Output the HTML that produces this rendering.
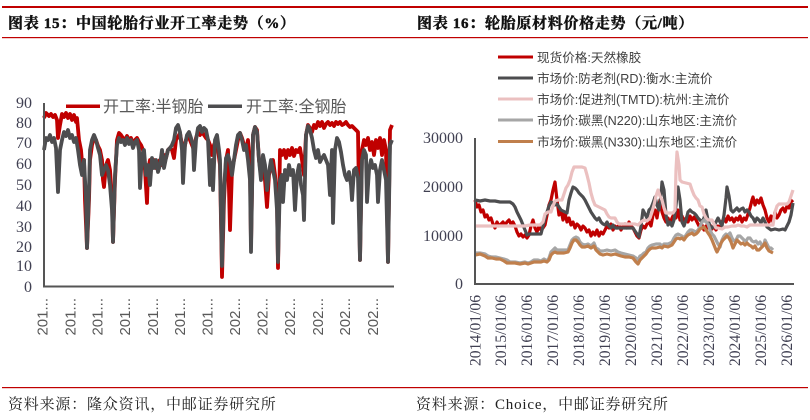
<!DOCTYPE html>
<html><head><meta charset="utf-8"><style>
html,body{margin:0;padding:0;background:#fff;}
svg{display:block;}
.title{font-family:"Liberation Serif","Noto Serif CJK SC",serif;font-weight:bold;font-size:15px;fill:#111;stroke:#111;stroke-width:0.45px;letter-spacing:0.7px;}
.foot{font-family:"Liberation Serif","Noto Serif CJK SC",serif;font-size:15px;fill:#222;letter-spacing:0.8px;}
.ytk{font-family:"Liberation Serif",serif;font-size:16px;fill:#404052;}
.xl{font-family:"Liberation Sans",sans-serif;font-size:15px;fill:#595959;}
.xr{font-family:"Liberation Serif",serif;font-size:15.6px;fill:#404052;}
.lg{font-family:"Liberation Sans","Noto Sans CJK SC",sans-serif;font-size:16px;fill:#595959;}
.lgr{font-family:"Liberation Sans","Noto Sans CJK SC",sans-serif;font-size:12.6px;fill:#404040;}
</style></head><body>
<svg width="810" height="420" viewBox="0 0 810 420" xmlns="http://www.w3.org/2000/svg">
<rect width="810" height="420" fill="#fff"/>
<rect x="2" y="6" width="806" height="2" fill="#C00000"/>
<rect x="2" y="37" width="806" height="1.2" fill="#C00000"/>
<rect x="2" y="387" width="806" height="1.2" fill="#C00000"/>
<text class="title" x="8" y="28">图表 15：中国轮胎行业开工率走势（%）</text>
<text class="title" x="417" y="28">图表 16：轮胎原材料价格走势（元/吨）</text>
<text class="foot" x="8" y="409">资料来源：隆众资讯，中邮证券研究所</text>
<text class="foot" x="416" y="409">资料来源：Choice，中邮证券研究所</text>

<g class="ytk" text-anchor="end">
<text x="32" y="108">90</text><text x="32" y="128">80</text><text x="32" y="148">70</text>
<text x="32" y="169">60</text><text x="32" y="190">50</text><text x="32" y="211">40</text>
<text x="32" y="232">30</text><text x="32" y="252">20</text><text x="32" y="271">10</text>
<text x="32" y="292">0</text>
</g>
<polyline fill="none" stroke="#C00000" stroke-width="3.8" stroke-linejoin="round" points="44,118 46,113 49,116 51,114 53,117 55,115 57,120 58,138 60,125 62,114 64,117 66,113 68,118 70,114 72,120 74,115 76,122 77,118 79,140 81,150 82,162 84,160 85,200 87,248 89,200 90,160 92,145 94,138 96,140 98,146 100,150 102,160 103,180 104,187 106,165 108,160 110,170 112,200 113,242 115,180 117,140 119,133 121,135 123,138 125,140 127,136 129,140 131,138 133,145 135,140 137,138 139,142 141,145 143,150 145,170 147,203 148,170 150,160 152,165 154,160 156,168 158,162 160,160 162,165 164,155 166,158 168,150 170,148 172,150 174,158 176,140 178,137 180,133 182,145 184,150 186,140 188,135 190,140 192,145 194,150 196,138 198,132 200,135 202,132 204,135 206,138 208,140 210,145 212,155 214,145 216,140 218,150 220,165 222,277 224,200 226,160 228,150 230,230 232,170 234,160 236,150 238,140 240,133 242,138 244,145 246,150 248,140 250,165 251,245 253,135 255,127 257,130 259,160 261,175 263,165 265,180 267,207 269,175 271,165 273,160 275,175 277,200 278,268 280,150 282,155 284,150 286,158 288,150 290,155 292,148 294,156 296,150 298,152 300,148 302,160 304,175 306,135 308,125 310,128 312,132 314,125 316,128 318,122 320,126 322,122 324,128 326,124 328,122 330,125 332,123 334,126 336,122 338,124 340,122 342,125 344,124 346,122 348,125 350,127 352,126 354,128 356,130 358,132 360,260 362,150 364,140 366,145 368,138 370,150 372,142 374,155 376,140 378,148 380,138 382,155 384,140 386,150 388,262 390,130 392,125"/>
<polyline fill="none" stroke="#4D4D4F" stroke-width="3.8" stroke-linejoin="round" points="44,150 46,138 48,140 50,135 52,142 54,138 56,148 58,192 60,150 62,140 64,132 66,136 68,130 70,138 72,135 74,142 76,138 78,150 80,165 82,175 84,160 86,200 87,248 89,190 90,150 92,140 94,135 96,140 98,148 100,155 102,175 104,170 106,165 108,170 110,185 112,210 113,242 115,175 117,145 119,138 121,142 123,140 125,145 127,138 129,144 131,140 133,148 135,142 137,140 139,150 140,188 142,155 144,150 146,175 148,165 150,185 152,158 154,168 156,160 158,172 160,165 162,150 164,168 166,158 168,150 170,148 172,145 174,140 176,128 178,125 180,132 182,150 183,183 185,145 187,135 189,132 191,138 193,145 194,170 196,140 198,128 200,126 202,132 204,128 206,130 208,140 210,185 212,160 213,190 215,140 217,135 219,150 220,160 222,266 224,190 226,158 228,155 230,162 232,175 234,160 236,145 238,135 240,133 242,140 244,150 246,145 248,160 250,180 251,252 253,135 255,127 257,132 259,160 261,180 263,155 265,165 267,190 269,172 271,160 273,170 275,180 277,210 278,262 280,180 282,175 283,202 285,170 287,180 289,165 291,175 293,170 295,210 297,175 299,165 301,185 303,195 304,220 306,135 308,126 310,130 312,138 314,150 316,158 318,150 320,162 322,158 324,155 326,160 328,165 330,195 332,150 333,223 335,150 337,138 339,142 341,152 343,165 345,175 347,180 349,172 351,185 352,200 354,170 356,168 358,178 360,260 362,160 364,150 366,155 367,202 369,170 371,160 373,168 375,165 377,175 378,202 380,170 382,160 384,170 386,180 388,262 390,145 392,140"/>
<rect x="43" y="103" width="2" height="184" fill="#555"/>
<rect x="43" y="285.5" width="351" height="2" fill="#555"/>
<rect x="66" y="104.5" width="34" height="3.5" fill="#C00000"/>
<text class="lg" x="103" y="112">开工率:半钢胎</text>
<rect x="208" y="104.5" width="34" height="3.5" fill="#4D4D4F"/>
<text class="lg" x="246" y="112">开工率:全钢胎</text>
<g class="xl" text-anchor="end">
<text transform="translate(47.5,298) rotate(-90)">201...</text>
<text transform="translate(75.5,298) rotate(-90)">201...</text>
<text transform="translate(102.5,298) rotate(-90)">201...</text>
<text transform="translate(130,298) rotate(-90)">201...</text>
<text transform="translate(158,298) rotate(-90)">201...</text>
<text transform="translate(185,298) rotate(-90)">201...</text>
<text transform="translate(212.5,298) rotate(-90)">201...</text>
<text transform="translate(240,298) rotate(-90)">202...</text>
<text transform="translate(267.5,298) rotate(-90)">202...</text>
<text transform="translate(295,298) rotate(-90)">202...</text>
<text transform="translate(323,298) rotate(-90)">202...</text>
<text transform="translate(350,298) rotate(-90)">202...</text>
<text transform="translate(378,298) rotate(-90)">202...</text>
</g>

<g class="ytk" text-anchor="end">
<text x="463" y="143">30000</text><text x="463" y="192">20000</text>
<text x="463" y="241">10000</text><text x="463" y="289">0</text>
</g>
<polyline fill="none" stroke="#C00000" stroke-width="3.2" stroke-linejoin="round" points="475,200 477,207 479,205 481,212 483,210 485,217 487,215 489,220 491,218 493,224 495,228 497,222 499,226 501,224 503,222 505,225 507,222 509,220 511,224 513,222 515,226 517,232 519,236 521,234 523,237 525,235 527,238 529,235 531,226 533,220 535,228 537,232 539,226 541,230 543,228 545,225 547,215 549,205 551,200 553,190 555,182 557,200 559,215 561,210 563,220 565,213 567,222 569,218 571,225 573,222 575,228 577,224 579,226 581,230 583,226 585,228 587,232 589,230 591,236 593,232 595,235 597,230 599,236 601,232 603,234 605,230 607,226 609,228 611,224 613,230 615,226 617,228 619,225 621,230 623,226 625,224 627,228 629,222 631,226 633,228 635,232 637,236 639,238 641,230 643,226 645,228 647,224 649,222 651,226 653,215 655,210 657,218 659,205 660,200 662,212 664,218 666,222 668,218 670,224 672,218 674,214 676,218 678,210 680,220 682,216 684,222 686,218 688,222 690,216 692,220 694,217 696,220 698,224 700,228 702,225 704,230 706,226 708,228 710,225 712,229 714,226 716,230 718,226 720,228 722,222 724,218 726,222 728,216 730,220 732,218 734,222 736,218 738,220 740,216 742,222 744,218 746,220 748,214 750,208 752,200 753,197 755,205 757,200 759,203 761,198 763,205 765,210 767,218 769,222 771,216 773,222 775,212 777,218 779,215 781,210 783,208 785,212 787,206 789,208 791,202 793,200"/>
<polyline fill="none" stroke="#4D4D4F" stroke-width="3.2" stroke-linejoin="round" points="475,200 480,201 485,200 490,201 495,201 500,202 505,202 510,202 513,204 515,207 517,212 519,216 521,220 523,225 525,230 527,235 529,234 533,234 537,234 541,234 543,226 545,218 547,212 549,206 551,202 553,203 555,205 557,204 559,207 561,210 563,211 565,212 567,213 569,200 571,193 573,187 575,188 577,190 579,193 581,195 583,197 585,200 587,204 589,208 591,212 593,215 595,218 597,220 599,218 601,222 603,224 605,225 607,222 609,226 611,228 613,225 615,228 617,228 621,228 625,228 629,228 633,228 635,231 637,234 639,237 641,226 643,210 645,214 647,218 649,210 651,208 653,203 655,197 657,205 659,210 661,195 662,182 664,190 666,215 668,225 670,222 672,226 674,220 676,205 678,187 680,200 682,222 684,226 686,220 688,212 690,210 692,212 694,213 696,215 698,218 700,220 702,222 704,218 706,210 708,220 710,226 712,228 714,226 716,222 718,218 720,222 722,226 724,215 726,198 727,187 729,196 731,210 733,212 735,210 737,208 739,211 741,209 743,208 745,212 747,210 749,212 751,216 753,218 755,222 757,218 759,220 761,223 763,218 765,222 767,227 771,230 775,229 779,230 783,229 785,230 787,226 789,222 791,215 793,203"/>
<polyline fill="none" stroke="#EBC0C0" stroke-width="3.2" stroke-linejoin="round" points="475,226 485,226 495,226 505,226 515,226 525,226 530,225 540,225 543,222 545,214 548,212 551,212 553,206 555,201 558,200 562,200 564,194 566,188 568,185 570,180 572,172 574,167 578,167 582,167 585,168 587,175 589,183 591,193 593,200 595,205 597,206 601,208 605,210 607,214 609,217 611,218 615,218 617,222 619,224 623,224 627,224 631,224 635,224 638,225 641,222 644,220 647,221 650,218 652,212 654,205 656,196 658,190 660,196 662,200 664,208 666,213 670,213 673,213 675,210 676,170 677,152 679,165 680,180 682,182 686,183 690,184 692,190 694,195 696,198 698,200 700,206 702,207 704,214 706,218 708,220 712,220 714,224 716,228 718,228 722,229 725,227 728,227 732,226 736,226 738,225 741,226 744,226 747,227 750,225 754,225 758,225 762,225 766,225 770,225 773,225 775,212 777,206 779,204 783,204 787,204 789,202 791,196 793,190"/>
<polyline fill="none" stroke="#A6A6A6" stroke-width="3.2" stroke-linejoin="round" points="475,253 480,253 485,254 488,256 492,257 496,257 500,258 504,259 507,260 510,262 515,262 520,263 525,262 528,263 531,262 534,260 538,260 541,261 544,259 547,261 549,258 551,252 553,250 555,248 557,250 560,250 564,250 568,250 570,245 572,240 574,238 576,237 578,238 580,242 582,244 585,245 588,244 591,246 594,243 596,248 598,249 600,251 603,251 607,250 611,251 615,250 618,252 621,253 625,254 629,255 633,256 636,258 638,260 640,256 642,255 644,253 646,252 648,248 650,246 652,245 656,244 660,244 662,246 664,244 668,244 672,242 674,238 676,235 678,234 680,235 682,236 684,238 686,235 688,232 690,230 692,230 694,231 696,232 698,230 700,227 702,222 704,220 706,222 708,224 710,230 712,234 714,236 716,240 718,244 720,247 722,240 724,236 726,234 728,235 730,233 732,238 734,241 736,240 738,236 740,236 742,238 744,240 746,241 748,238 750,238 752,241 754,242 756,241 758,244 760,242 762,246 764,244 765,240 767,244 769,248 771,248 773,250"/>
<polyline fill="none" stroke="#C07F4C" stroke-width="3.2" stroke-linejoin="round" points="475,255 480,254 485,256 488,258 492,258 496,259 500,259 504,261 507,263 510,263 515,263 520,264 525,263 528,264 531,263 534,262 538,262 541,262 544,261 547,262 549,260 551,255 553,253 555,252 557,253 560,253 564,253 568,252 570,248 572,243 574,240 576,240 578,242 580,245 582,247 585,247 588,246 591,248 594,246 596,250 598,252 600,254 603,255 607,254 611,255 615,254 618,255 621,256 625,257 629,257 633,258 636,262 638,264 640,260 642,258 644,256 646,254 648,251 650,249 652,248 656,248 660,247 662,248 664,246 668,247 672,245 674,242 676,239 678,238 680,239 682,238 684,240 686,237 688,235 690,234 692,233 694,235 696,234 698,232 700,229 702,228 704,227 706,230 708,233 710,236 712,240 714,245 716,250 717,252 719,248 721,243 723,240 725,238 727,236 729,238 731,242 733,248 735,244 737,240 739,242 741,244 743,243 745,245 747,243 749,245 751,246 753,248 755,246 757,250 759,250 761,248 763,246 765,243 767,248 769,251 771,252 773,253"/>
<rect x="474" y="138" width="2" height="147" fill="#555"/>
<rect x="474" y="283" width="320" height="2" fill="#555"/>
<rect x="498" y="55.5" width="35" height="3" fill="#C00000"/>
<text class="lgr" x="537" y="62">现货价格:天然橡胶</text>
<rect x="498" y="76.5" width="35" height="3" fill="#4D4D4F"/>
<text class="lgr" x="537" y="83">市场价:防老剂(RD):衡水:主流价</text>
<rect x="498" y="97.5" width="35" height="3" fill="#EBC0C0"/>
<text class="lgr" x="537" y="104">市场价:促进剂(TMTD):杭州:主流价</text>
<rect x="498" y="118.5" width="35" height="3" fill="#A6A6A6"/>
<text class="lgr" x="537" y="125">市场价:碳黑(N220):山东地区:主流价</text>
<rect x="498" y="140" width="35" height="3" fill="#C07F4C"/>
<text class="lgr" x="537" y="146.5">市场价:碳黑(N330):山东地区:主流价</text>
<g class="xr" text-anchor="end">
<text transform="translate(480.5,295) rotate(-90)">2014/01/06</text>
<text transform="translate(506,295) rotate(-90)">2015/01/06</text>
<text transform="translate(532,295) rotate(-90)">2016/01/06</text>
<text transform="translate(558,295) rotate(-90)">2017/01/06</text>
<text transform="translate(584,295) rotate(-90)">2018/01/06</text>
<text transform="translate(610,295) rotate(-90)">2019/01/06</text>
<text transform="translate(636,295) rotate(-90)">2020/01/06</text>
<text transform="translate(662,295) rotate(-90)">2021/01/06</text>
<text transform="translate(688,295) rotate(-90)">2022/01/06</text>
<text transform="translate(714,295) rotate(-90)">2023/01/06</text>
<text transform="translate(740,295) rotate(-90)">2024/01/06</text>
<text transform="translate(766,295) rotate(-90)">2025/01/06</text>
<text transform="translate(792,295) rotate(-90)">2026/01/06</text>
</g>
</svg>
</body></html>
